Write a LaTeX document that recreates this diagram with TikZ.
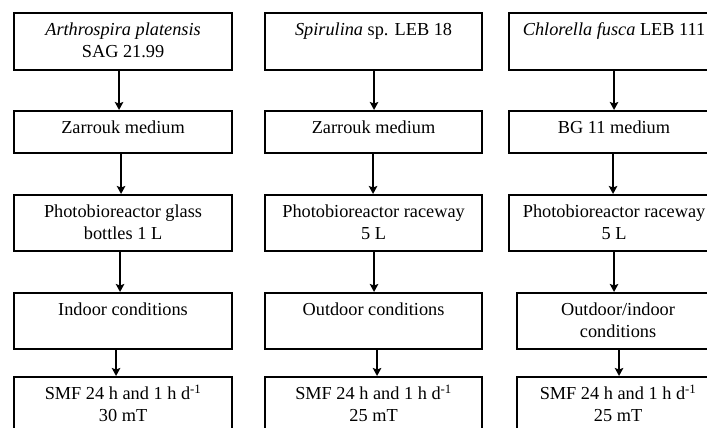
\documentclass[tikz,border=0pt]{standalone}
\usepackage{fontspec}
\setmainfont{Liberation Serif}
\usetikzlibrary{arrows.meta}
\newcommand\bxt[3]{\parbox[t][#1pt][t]{#2pt}{\centering\rule{0pt}{22.5pt}#3}}
\tikzset{
  box/.style={draw, line width=2.1pt, inner sep=0pt, anchor=north west,
    font=\fontsize{18.3}{21.5}\selectfont},
  arr/.style={line width=1.8pt, -{Stealth[length=8pt,width=8.5pt,inset=1.5pt]}}
}
\begin{document}
\begin{tikzpicture}[x=1pt,y=-1pt]
\useasboundingbox (0,0) rectangle (707,428);
\clip (0,0) rectangle (707,428);
% column 1
\node[box] (a1) at (13,12)  {\bxt{57}{218}{\textit{Arthrospira platensis}\\SAG 21.99}};
\node[box] (a2) at (13,110) {\bxt{42}{218}{Zarrouk medium}};
\node[box] (a3) at (13,194) {\bxt{56}{218}{Photobioreactor glass\\bottles 1 L}};
\node[box] (a4) at (13,292) {\bxt{56}{218}{Indoor conditions}};
\node[box] (a5) at (13,376) {\bxt{60}{218}{SMF 24 h and 1 h d\textsuperscript{-1}\\30 mT}};
% column 2
\node[box] (b1) at (264,12)  {\bxt{57}{217}{\textit{Spirulina} sp. LEB 18}};
\node[box] (b2) at (264,110) {\bxt{42}{217}{Zarrouk medium}};
\node[box] (b3) at (264,194) {\bxt{56}{217}{Photobioreactor raceway\\5 L}};
\node[box] (b4) at (264,292) {\bxt{56}{217}{Outdoor conditions}};
\node[box] (b5) at (264,376) {\bxt{60}{217}{SMF 24 h and 1 h d\textsuperscript{-1}\\25 mT}};
% column 3
\node[box] (c1) at (508,12)  {\bxt{57}{210}{\textit{Chlorella fusca} LEB 111}};
\node[box] (c2) at (508,110) {\bxt{42}{210}{BG 11 medium}};
\node[box] (c3) at (508,194) {\bxt{56}{210}{Photobioreactor raceway\\5 L}};
\node[box] (c4) at (516,292) {\bxt{56}{202}{Outdoor/indoor\\conditions}};
\node[box] (c5) at (516,376) {\bxt{60}{202}{SMF 24 h and 1 h d\textsuperscript{-1}\\25 mT}};
% arrows column 1 (box centre x = 122)
\draw[arr] ([xshift=-4pt]a1.south) -- ([xshift=-4pt]a2.north);
\draw[arr] ([xshift=-2pt]a2.south) -- ([xshift=-2pt]a3.north);
\draw[arr] ([xshift=-3pt]a3.south) -- ([xshift=-3pt]a4.north);
\draw[arr] ([xshift=-7pt]a4.south) -- ([xshift=-7pt]a5.north);
% arrows column 2 (box centre x = 372.5)
\draw[arr] ([xshift=0.5pt]b1.south) -- ([xshift=0.5pt]b2.north);
\draw[arr] ([xshift=-0.5pt]b2.south) -- ([xshift=-0.5pt]b3.north);
\draw[arr] ([xshift=0.5pt]b3.south) -- ([xshift=0.5pt]b4.north);
\draw[arr] ([xshift=3.5pt]b4.south) -- ([xshift=3.5pt]b5.north);
% arrows column 3 (box centre x = 613, then 617)
\draw[arr] (c1.south) -- (c2.north);
\draw[arr] ([xshift=-1pt]c2.south) -- ([xshift=-1pt]c3.north);
\draw[arr] (c3.south) -- ([xshift=-4pt]c4.north);
\draw[arr] ([xshift=1pt]c4.south) -- ([xshift=1pt]c5.north);
\end{tikzpicture}
\end{document}
